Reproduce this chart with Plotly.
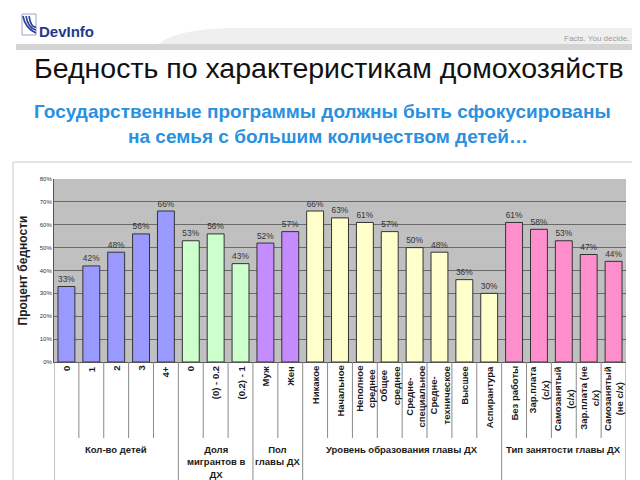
import plotly.graph_objects as go

categories = ["0", "1", "2", "3", "4+",
              "0", "(0) - 0.2", "(0.2) - 1",
              "Муж", "Жен",
              "Никакое", "Начальное", "Неполное<br>среднее", "Общее<br>среднее",
              "Средне-<br>специальное", "Средне-<br>техническое", "Высшее", "Аспирантура",
              "Без работы", "Зар.плата<br>(c/x)", "Самозанятый<br>(c/x)", "Зар.плата (не<br>c/x)",
              "Самозанятый<br>(не c/x)"]
values = [33, 42, 48, 56, 66,
          53, 56, 43,
          52, 57,
          66, 63, 61, 57, 50, 48, 36, 30,
          61, 58, 53, 47, 44]
groups = ["Кол-во детей", "Доля<br>мигрантов в<br>ДХ", "Пол<br>главы ДХ",
          "Уровень образования главы ДХ", "Тип занятости главы ДХ"]
group_sizes = [5, 3, 2, 8, 5]
group_colors = ["#9999ff", "#ccffcc", "#c58cff", "#ffffcc", "#ff8fcc"]
y_ticks = [0, 10, 20, 30, 40, 50, 60, 70, 80]

x_idx = list(range(len(categories)))
bar_colors = []
for g, n in enumerate(group_sizes):
    bar_colors += [group_colors[g]] * n

fig = go.Figure()
fig.add_trace(go.Bar(
    x=x_idx, y=values, width=0.68,
    marker=dict(color=bar_colors, line=dict(color="#333333", width=1)),
    text=[f"{v}%" for v in values], textposition="outside",
    textfont=dict(family="Liberation Sans Narrow, Liberation Sans", size=11, color="#333333"),
    cliponaxis=False, hoverinfo="skip",
))

shapes = []
annotations = []

PH = 183.0
def py(px):
    return (354 - px) / PH

def px_x(x):
    return (x - 46) / 572

n = len(categories)
bounds = [-0.5]
for s in group_sizes:
    bounds.append(bounds[-1] + s)
for i in range(n + 1):
    b = i - 0.5
    is_group = any(abs(b - gb) < 1e-9 for gb in bounds)
    shapes.append(dict(type="line", xref="x", yref="paper", x0=b, x1=b,
                       y0=0, y1=py(478 if is_group else 430),
                       line=dict(color="#8a8a8a", width=1)))
for i, c in enumerate(categories):
    annotations.append(dict(x=i, y=py(356), xref="x", yref="paper", text="<b>" + c + "</b>",
                            textangle=-90, showarrow=False, xanchor="center", yanchor="top",
                            font=dict(family="Liberation Sans", size=9.5, color="#1a1a1a")))
start = 0
for g, s in zip(groups, group_sizes):
    center = start + (s - 1) / 2
    annotations.append(dict(x=center, y=py(434), xref="x", yref="paper", text="<b>" + g + "</b>",
                            showarrow=False, xanchor="center", yanchor="top",
                            font=dict(family="Liberation Sans", size=9.5, color="#1a1a1a")))
    start += s

shapes.append(dict(type="rect", xref="paper", yref="paper", x0=px_x(5), x1=px_x(635),
                   y0=py(481), y1=py(154), line=dict(color="#c8c8c8", width=1), layer="below"))

# header band
shapes.append(dict(type="rect", xref="paper", yref="paper", x0=px_x(8), x1=px_x(632),
                   y0=py(42), y1=py(36), line=dict(width=0), fillcolor="#d4d4d4"))
shapes.append(dict(type="path", xref="paper", yref="paper",
                   path=f"M {px_x(150)} {py(36)} C {px_x(170)} {py(22)}, {px_x(200)} {py(20)}, {px_x(240)} {py(20)} L {px_x(632)} {py(20)} L {px_x(632)} {py(36)} Z",
                   line=dict(width=0), fillcolor="#efefef"))
shapes.append(dict(type="rect", xref="paper", yref="paper", x0=px_x(14), x1=px_x(28),
                   y0=py(27), y1=py(6), line=dict(color="#9aa6c8", width=1), fillcolor="white"))
for k in range(3):
    shapes.append(dict(type="path", xref="paper", yref="paper",
                       path=f"M {px_x(15+k*3)} {py(8)} Q {px_x(17+k*3)} {py(20)}, {px_x(28)} {py(25-k*3)}",
                       line=dict(color="#2a3f9a", width=1.6)))
annotations.append(dict(x=px_x(29), y=py(23), xref="paper", yref="paper", text="<b>DevInfo</b>",
                        showarrow=False, xanchor="left", yanchor="middle",
                        font=dict(family="Liberation Sans", size=15, color="#1f3a8f")))
annotations.append(dict(x=px_x(623), y=py(30), xref="paper", yref="paper", text="Facts. You decide.",
                        showarrow=False, xanchor="right", yanchor="middle",
                        font=dict(family="Liberation Sans", size=8, color="#9a9a9a")))
annotations.append(dict(x=px_x(321), y=py(60), xref="paper", yref="paper",
                        text="Бедность по характеристикам домохозяйств",
                        showarrow=False, xanchor="center", yanchor="middle",
                        font=dict(family="Liberation Sans", size=28.5, color="#111111")))
annotations.append(dict(x=px_x(314), y=py(103), xref="paper", yref="paper",
                        text="<b>Государственные программы должны быть сфокусированы</b>",
                        showarrow=False, xanchor="center", yanchor="middle",
                        font=dict(family="Liberation Sans", size=19, color="#2a90e0")))
annotations.append(dict(x=px_x(320), y=py(128), xref="paper", yref="paper",
                        text="<b>на семья с большим количеством детей…</b>",
                        showarrow=False, xanchor="center", yanchor="middle",
                        font=dict(family="Liberation Sans", size=19, color="#2a90e0")))

fig.update_layout(
    width=640, height=480,
    margin=dict(l=46, r=22, t=171, b=126, pad=0),
    paper_bgcolor="white", plot_bgcolor="#c0c0c0",
    showlegend=False, bargap=0.32,
    shapes=shapes, annotations=annotations,
    xaxis=dict(range=[-0.5, n - 0.5], showticklabels=False, showgrid=False, zeroline=False,
               showline=True, linecolor="#555555", linewidth=1, fixedrange=True),
    yaxis=dict(range=[0, 80], tickvals=y_ticks, ticktext=[f"{t}%" for t in y_ticks],
               showgrid=True, gridcolor="#6a6a6a", gridwidth=1, zeroline=False,
               showline=True, linecolor="#555555", linewidth=1, ticks="", ticklen=0,
               tickfont=dict(family="Liberation Sans", size=6, color="#333333"),
               title=dict(text="<b>Процент бедности</b>", standoff=9,
                          font=dict(family="Liberation Sans", size=12, color="#222222")),
               fixedrange=True),
)
fig.write_html("out.html")
